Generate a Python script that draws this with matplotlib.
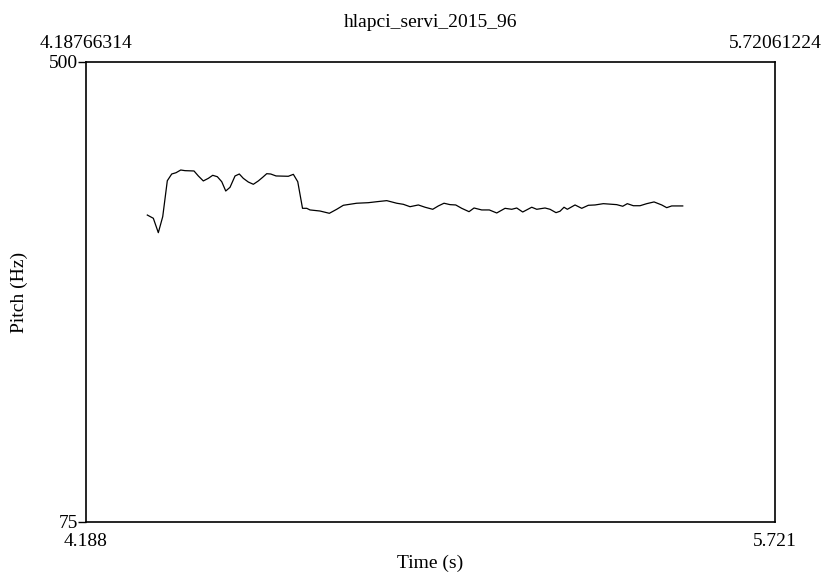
import matplotlib
matplotlib.use("Agg")
import matplotlib.pyplot as plt

plt.rcParams['font.family'] = ['Liberation Serif', 'DejaVu Serif']

# visible time window (s) and pitch range (Hz)
t_start = 4.18766314
t_end = 5.72061224
f_min = 75
f_max = 500
title = "hlapci_servi_2015_96"

# pitch contour
times = [4.3240, 4.3374, 4.3485, 4.3583, 4.3685, 4.3783, 4.3879, 4.3984, 4.4079,
         4.4279, 4.4375, 4.4486, 4.4598, 4.4695, 4.4798, 4.4896, 4.4985, 4.5080,
         4.5192, 4.5287, 4.5376, 4.5487, 4.5599, 4.5710, 4.5808, 4.5897, 4.5986,
         4.6104, 4.6377, 4.6489, 4.6587, 4.6693, 4.6787, 4.6860, 4.7083, 4.7290,
         4.7454, 4.7601, 4.7899, 4.8157, 4.8344, 4.8567, 4.8789, 4.8936, 4.9085,
         4.9270, 4.9419, 4.9590, 4.9715, 4.9841, 4.9975, 5.0102, 5.0235, 5.0398,
         5.0509, 5.0680, 5.0849, 5.1014, 5.1199, 5.1348, 5.1459, 5.1592, 5.1793,
         5.1904, 5.2088, 5.2200, 5.2333, 5.2422, 5.2511, 5.2585, 5.2756, 5.2905,
         5.3052, 5.3201, 5.3386, 5.3684, 5.3817, 5.3919, 5.4053, 5.4202, 5.4351,
         5.4514, 5.4685, 5.4796, 5.4907, 5.5152]
pitch = [358.6, 355.6, 342.3, 357.1, 390.3, 396.5, 397.7, 400.2, 399.6,
         399.3, 394.7, 390.1, 392.5, 395.3, 394.0, 389.4, 380.8, 384.2,
         394.7, 396.5, 392.5, 389.1, 387.0, 390.1, 393.5, 396.8, 396.5,
         394.7, 394.4, 396.2, 389.4, 364.8, 364.8, 363.3, 362.3, 360.2,
         363.9, 367.6, 369.5, 370.0, 370.9, 371.9, 369.5, 368.5, 366.3,
         367.9, 365.8, 363.9, 367.0, 369.5, 368.2, 367.9, 364.8, 361.7,
         365.1, 363.3, 363.3, 360.5, 364.8, 363.9, 365.1, 361.4, 365.8,
         363.9, 365.1, 363.9, 360.8, 362.1, 365.8, 363.9, 367.9, 364.8,
         367.6, 367.9, 369.1, 368.2, 366.7, 369.1, 367.2, 367.2, 369.1,
         370.7, 367.9, 365.4, 367.0, 367.0]

fs = 14

fig = plt.figure(figsize=(8.24, 5.75), dpi=100)
ax = fig.add_axes([0.1044, 0.0922, 0.8362, 0.8])

ax.plot(times, pitch, color='black', linewidth=0.9)

ax.set_xlim(t_start, t_end)
ax.set_ylim(f_min, f_max)

for s in ax.spines.values():
    s.set_linewidth(1.2)

ax.set_xticks([t_start, t_end], labels=[f"{t_start:.3f}", f"{t_end:.3f}"])
ax.set_yticks([f_min, f_max], labels=[str(f_min), str(f_max)])
ax.tick_params(axis='x', length=0, labelsize=fs, pad=8)
ax.tick_params(axis='y', length=6, width=1.0, labelsize=fs, pad=0)

top = ax.secondary_xaxis('top')
top.set_xticks([t_start, t_end], labels=[f"{t_start:.8f}", f"{t_end:.8f}"])
top.tick_params(length=0, labelsize=fs, pad=7)
top.spines['top'].set_visible(False)

ax.set_xlabel("Time (s)", fontsize=fs, labelpad=3)
ax.set_ylabel("Pitch (Hz)", fontsize=fs)
ax.yaxis.set_label_coords(-0.084, 0.5)
ax.set_title(title, fontsize=fs, y=1.076, pad=0)

fig.savefig("out.png", dpi=100)
